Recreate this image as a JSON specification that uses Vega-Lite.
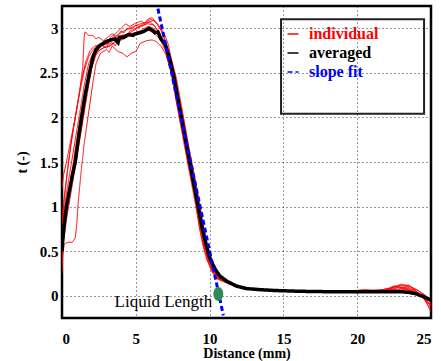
{
  "$schema": "https://vega.github.io/schema/vega-lite/v6.json",
  "width": 369,
  "height": 312,
  "autosize": {"type": "none"},
  "padding": {"left": 62, "top": 6, "right": 10, "bottom": 43},
  "background": "white",
  "config": {
    "view": {"stroke": "black", "strokeWidth": 2.5},
    "font": "Liberation Serif",
    "axis": {
      "labelFont": "Liberation Serif", "labelFontWeight": "bold", "labelFontSize": 15, "labelColor": "black",
      "titleFont": "Liberation Serif", "titleFontWeight": "bold", "titleFontSize": 14, "titleColor": "black",
      "domain": false, "ticks": false, "format": "~g",
      "grid": true, "gridDash": [1, 3], "gridColor": "black", "gridOpacity": 0.8, "gridWidth": 1
    },
    "legend": {
      "orient": "none", "legendX": 223, "legendY": 20, "title": null,
      "symbolType": "stroke", "symbolSize": 120, "symbolStrokeWidth": 1.5,
      "labelFont": "Liberation Serif", "labelFontWeight": "bold", "labelFontSize": 16,
      "labelOffset": 8, "rowPadding": 3, "padding": 0
    }
  },
  "datasets": {
    "ind": [
      {"run":"r1","x":0,"y":0.7},{"run":"r1","x":0.1,"y":1.0},{"run":"r1","x":0.3,"y":1.3},{"run":"r1","x":0.6,"y":1.7},{"run":"r1","x":0.9,"y":2.0},{"run":"r1","x":1.2,"y":2.3},{"run":"r1","x":1.4,"y":2.55},{"run":"r1","x":1.5,"y":2.9},{"run":"r1","x":1.56,"y":2.96},{"run":"r1","x":1.7,"y":2.94},{"run":"r1","x":1.8,"y":2.92},{"run":"r1","x":2.1,"y":2.92},{"run":"r1","x":2.3,"y":2.88},{"run":"r1","x":2.5,"y":2.9},{"run":"r1","x":2.8,"y":2.86},{"run":"r1","x":3.1,"y":2.9},{"run":"r1","x":3.4,"y":2.94},{"run":"r1","x":3.7,"y":2.9},{"run":"r1","x":4.0,"y":2.97},{"run":"r1","x":4.2,"y":2.95},{"run":"r1","x":4.4,"y":2.99},{"run":"r1","x":4.8,"y":3.0},{"run":"r1","x":5.0,"y":3.04},{"run":"r1","x":5.2,"y":3.02},{"run":"r1","x":5.6,"y":3.06},{"run":"r1","x":6.0,"y":3.07},{"run":"r1","x":6.3,"y":3.02},{"run":"r1","x":6.6,"y":2.95},{"run":"r1","x":6.9,"y":2.85},{"run":"r1","x":7.2,"y":2.62},{"run":"r1","x":7.5,"y":2.44},{"run":"r1","x":7.9,"y":2.08},{"run":"r1","x":8.3,"y":1.72},{"run":"r1","x":8.7,"y":1.37},{"run":"r1","x":9.1,"y":1.02},{"run":"r1","x":9.35,"y":0.76},{"run":"r1","x":9.6,"y":0.55},{"run":"r1","x":9.85,"y":0.4},{"run":"r1","x":10.2,"y":0.27},{"run":"r1","x":10.55,"y":0.19},{"run":"r1","x":11.2,"y":0.14},{"run":"r1","x":11.8,"y":0.1},{"run":"r1","x":12.5,"y":0.075},{"run":"r1","x":13.5,"y":0.064},{"run":"r1","x":15,"y":0.054},{"run":"r1","x":17,"y":0.046},{"run":"r1","x":19,"y":0.045},{"run":"r1","x":20,"y":0.055},{"run":"r1","x":20.6,"y":0.06},{"run":"r1","x":21.2,"y":0.05},{"run":"r1","x":21.8,"y":0.07},{"run":"r1","x":22.4,"y":0.09},{"run":"r1","x":22.9,"y":0.12},{"run":"r1","x":23.4,"y":0.1},{"run":"r1","x":23.9,"y":0.06},{"run":"r1","x":24.4,"y":0.0},{"run":"r1","x":25,"y":-0.12},

      {"run":"r2","x":0,"y":0.25},{"run":"r2","x":0.05,"y":0.45},{"run":"r2","x":0.15,"y":0.58},{"run":"r2","x":0.4,"y":0.6},{"run":"r2","x":0.7,"y":0.6},{"run":"r2","x":0.9,"y":0.65},{"run":"r2","x":1.0,"y":0.8},{"run":"r2","x":1.1,"y":1.05},{"run":"r2","x":1.3,"y":1.4},{"run":"r2","x":1.5,"y":1.7},{"run":"r2","x":1.8,"y":2.05},{"run":"r2","x":2.1,"y":2.4},{"run":"r2","x":2.3,"y":2.6},{"run":"r2","x":2.6,"y":2.72},{"run":"r2","x":3.0,"y":2.76},{"run":"r2","x":3.2,"y":2.73},{"run":"r2","x":3.4,"y":2.8},{"run":"r2","x":3.8,"y":2.74},{"run":"r2","x":4.1,"y":2.72},{"run":"r2","x":4.4,"y":2.68},{"run":"r2","x":4.7,"y":2.72},{"run":"r2","x":5.0,"y":2.74},{"run":"r2","x":5.3,"y":2.83},{"run":"r2","x":5.7,"y":2.86},{"run":"r2","x":6.1,"y":2.87},{"run":"r2","x":6.4,"y":2.85},{"run":"r2","x":6.7,"y":2.8},{"run":"r2","x":7.0,"y":2.72},{"run":"r2","x":7.3,"y":2.58},{"run":"r2","x":7.65,"y":2.44},{"run":"r2","x":8.05,"y":2.08},{"run":"r2","x":8.45,"y":1.7},{"run":"r2","x":8.85,"y":1.37},{"run":"r2","x":9.25,"y":1.0},{"run":"r2","x":9.5,"y":0.74},{"run":"r2","x":9.75,"y":0.54},{"run":"r2","x":10.0,"y":0.39},{"run":"r2","x":10.3,"y":0.26},{"run":"r2","x":10.65,"y":0.19},{"run":"r2","x":11.2,"y":0.15},{"run":"r2","x":11.8,"y":0.1},{"run":"r2","x":12.5,"y":0.08},{"run":"r2","x":13.5,"y":0.065},{"run":"r2","x":15,"y":0.055},{"run":"r2","x":16.8,"y":0.045},{"run":"r2","x":19,"y":0.045},{"run":"r2","x":20,"y":0.045},{"run":"r2","x":20.7,"y":0.05},{"run":"r2","x":21.3,"y":0.065},{"run":"r2","x":21.9,"y":0.055},{"run":"r2","x":22.5,"y":0.1},{"run":"r2","x":23.0,"y":0.13},{"run":"r2","x":23.5,"y":0.11},{"run":"r2","x":24.0,"y":0.07},{"run":"r2","x":24.5,"y":0.02},{"run":"r2","x":25,"y":-0.06},

      {"run":"r3","x":0,"y":0.5},{"run":"r3","x":0.1,"y":0.9},{"run":"r3","x":0.3,"y":1.15},{"run":"r3","x":0.6,"y":1.45},{"run":"r3","x":0.9,"y":1.75},{"run":"r3","x":1.2,"y":2.05},{"run":"r3","x":1.5,"y":2.35},{"run":"r3","x":1.8,"y":2.6},{"run":"r3","x":2.1,"y":2.72},{"run":"r3","x":2.5,"y":2.78},{"run":"r3","x":2.9,"y":2.85},{"run":"r3","x":3.1,"y":2.82},{"run":"r3","x":3.3,"y":2.9},{"run":"r3","x":3.7,"y":2.95},{"run":"r3","x":4.0,"y":3.0},{"run":"r3","x":4.3,"y":3.05},{"run":"r3","x":4.6,"y":3.02},{"run":"r3","x":5.0,"y":3.06},{"run":"r3","x":5.4,"y":3.08},{"run":"r3","x":5.6,"y":3.05},{"run":"r3","x":5.8,"y":3.1},{"run":"r3","x":6.1,"y":3.12},{"run":"r3","x":6.4,"y":3.06},{"run":"r3","x":6.7,"y":2.98},{"run":"r3","x":7.0,"y":2.85},{"run":"r3","x":7.3,"y":2.67},{"run":"r3","x":7.7,"y":2.44},{"run":"r3","x":8.1,"y":2.06},{"run":"r3","x":8.5,"y":1.72},{"run":"r3","x":8.9,"y":1.36},{"run":"r3","x":9.3,"y":1.02},{"run":"r3","x":9.55,"y":0.77},{"run":"r3","x":9.8,"y":0.56},{"run":"r3","x":10.05,"y":0.4},{"run":"r3","x":10.35,"y":0.28},{"run":"r3","x":10.7,"y":0.2},{"run":"r3","x":11.2,"y":0.15},{"run":"r3","x":11.8,"y":0.11},{"run":"r3","x":12.5,"y":0.078},{"run":"r3","x":13.5,"y":0.064},{"run":"r3","x":15,"y":0.055},{"run":"r3","x":17,"y":0.046},{"run":"r3","x":19,"y":0.046},{"run":"r3","x":20,"y":0.05},{"run":"r3","x":20.8,"y":0.045},{"run":"r3","x":21.5,"y":0.06},{"run":"r3","x":22.1,"y":0.08},{"run":"r3","x":22.7,"y":0.06},{"run":"r3","x":23.2,"y":0.09},{"run":"r3","x":23.7,"y":0.07},{"run":"r3","x":24.2,"y":0.02},{"run":"r3","x":24.6,"y":-0.05},{"run":"r3","x":25,"y":-0.18},

      {"run":"r4","x":0,"y":0.8},{"run":"r4","x":0.15,"y":1.1},{"run":"r4","x":0.4,"y":1.45},{"run":"r4","x":0.7,"y":1.8},{"run":"r4","x":1.0,"y":2.1},{"run":"r4","x":1.3,"y":2.4},{"run":"r4","x":1.6,"y":2.62},{"run":"r4","x":1.9,"y":2.75},{"run":"r4","x":2.2,"y":2.8},{"run":"r4","x":2.6,"y":2.82},{"run":"r4","x":3.0,"y":2.78},{"run":"r4","x":3.4,"y":2.82},{"run":"r4","x":3.8,"y":2.9},{"run":"r4","x":4.2,"y":2.93},{"run":"r4","x":4.4,"y":2.9},{"run":"r4","x":4.6,"y":2.97},{"run":"r4","x":5.0,"y":3.0},{"run":"r4","x":5.4,"y":3.03},{"run":"r4","x":5.8,"y":3.05},{"run":"r4","x":6.2,"y":3.04},{"run":"r4","x":6.5,"y":2.97},{"run":"r4","x":6.8,"y":2.88},{"run":"r4","x":7.1,"y":2.72},{"run":"r4","x":7.55,"y":2.44},{"run":"r4","x":7.95,"y":2.1},{"run":"r4","x":8.35,"y":1.72},{"run":"r4","x":8.75,"y":1.38},{"run":"r4","x":9.15,"y":1.02},{"run":"r4","x":9.42,"y":0.76},{"run":"r4","x":9.68,"y":0.55},{"run":"r4","x":9.92,"y":0.41},{"run":"r4","x":10.25,"y":0.28},{"run":"r4","x":10.6,"y":0.2},{"run":"r4","x":11.2,"y":0.15},{"run":"r4","x":11.8,"y":0.105},{"run":"r4","x":12.5,"y":0.077},{"run":"r4","x":13.5,"y":0.065},{"run":"r4","x":15,"y":0.054},{"run":"r4","x":17,"y":0.047},{"run":"r4","x":19,"y":0.045},{"run":"r4","x":20,"y":0.05},{"run":"r4","x":21,"y":0.055},{"run":"r4","x":21.8,"y":0.05},{"run":"r4","x":22.4,"y":0.07},{"run":"r4","x":23.0,"y":0.11},{"run":"r4","x":23.5,"y":0.12},{"run":"r4","x":24.0,"y":0.05},{"run":"r4","x":24.5,"y":-0.03},{"run":"r4","x":25,"y":-0.15},

      {"run":"r5","x":0,"y":0.6},{"run":"r5","x":0.2,"y":0.95},{"run":"r5","x":0.5,"y":1.2},{"run":"r5","x":0.8,"y":1.45},{"run":"r5","x":1.1,"y":1.7},{"run":"r5","x":1.4,"y":2.0},{"run":"r5","x":1.7,"y":2.3},{"run":"r5","x":2.0,"y":2.55},{"run":"r5","x":2.3,"y":2.7},{"run":"r5","x":2.6,"y":2.76},{"run":"r5","x":3.0,"y":2.8},{"run":"r5","x":3.4,"y":2.84},{"run":"r5","x":3.6,"y":2.8},{"run":"r5","x":3.8,"y":2.86},{"run":"r5","x":4.2,"y":2.88},{"run":"r5","x":4.6,"y":2.92},{"run":"r5","x":5.0,"y":2.95},{"run":"r5","x":5.4,"y":2.98},{"run":"r5","x":5.8,"y":3.02},{"run":"r5","x":6.2,"y":3.0},{"run":"r5","x":6.5,"y":2.95},{"run":"r5","x":6.8,"y":2.86},{"run":"r5","x":7.1,"y":2.74},{"run":"r5","x":7.6,"y":2.42},{"run":"r5","x":8.0,"y":2.08},{"run":"r5","x":8.4,"y":1.73},{"run":"r5","x":8.8,"y":1.36},{"run":"r5","x":9.2,"y":1.01},{"run":"r5","x":9.45,"y":0.75},{"run":"r5","x":9.72,"y":0.54},{"run":"r5","x":9.98,"y":0.39},{"run":"r5","x":10.3,"y":0.27},{"run":"r5","x":10.65,"y":0.2},{"run":"r5","x":11.2,"y":0.15},{"run":"r5","x":11.8,"y":0.1},{"run":"r5","x":12.5,"y":0.078},{"run":"r5","x":13.5,"y":0.064},{"run":"r5","x":15,"y":0.054},{"run":"r5","x":17,"y":0.046},{"run":"r5","x":19,"y":0.045},{"run":"r5","x":20,"y":0.045},{"run":"r5","x":21,"y":0.05},{"run":"r5","x":22,"y":0.06},{"run":"r5","x":22.6,"y":0.05},{"run":"r5","x":23.2,"y":0.07},{"run":"r5","x":23.8,"y":0.04},{"run":"r5","x":24.3,"y":0.01},{"run":"r5","x":25,"y":-0.08},

      {"run":"r6","x":0,"y":0.45},{"run":"r6","x":0.1,"y":0.7},{"run":"r6","x":0.3,"y":0.95},{"run":"r6","x":0.6,"y":1.3},{"run":"r6","x":0.9,"y":1.65},{"run":"r6","x":1.2,"y":1.95},{"run":"r6","x":1.5,"y":2.25},{"run":"r6","x":1.8,"y":2.5},{"run":"r6","x":2.1,"y":2.66},{"run":"r6","x":2.4,"y":2.74},{"run":"r6","x":2.8,"y":2.78},{"run":"r6","x":3.2,"y":2.8},{"run":"r6","x":3.6,"y":2.84},{"run":"r6","x":4.0,"y":2.88},{"run":"r6","x":4.3,"y":2.92},{"run":"r6","x":4.7,"y":2.96},{"run":"r6","x":5.1,"y":3.0},{"run":"r6","x":5.5,"y":3.03},{"run":"r6","x":5.9,"y":3.07},{"run":"r6","x":6.2,"y":3.09},{"run":"r6","x":6.5,"y":3.04},{"run":"r6","x":6.8,"y":2.96},{"run":"r6","x":7.1,"y":2.8},{"run":"r6","x":7.3,"y":2.64},{"run":"r6","x":7.45,"y":2.44},{"run":"r6","x":7.85,"y":2.08},{"run":"r6","x":8.25,"y":1.72},{"run":"r6","x":8.65,"y":1.37},{"run":"r6","x":9.05,"y":1.02},{"run":"r6","x":9.32,"y":0.75},{"run":"r6","x":9.58,"y":0.54},{"run":"r6","x":9.83,"y":0.4},{"run":"r6","x":10.15,"y":0.27},{"run":"r6","x":10.5,"y":0.19},{"run":"r6","x":11.2,"y":0.14},{"run":"r6","x":11.8,"y":0.1},{"run":"r6","x":12.5,"y":0.076},{"run":"r6","x":13.5,"y":0.065},{"run":"r6","x":15,"y":0.055},{"run":"r6","x":17,"y":0.047},{"run":"r6","x":19,"y":0.046},{"run":"r6","x":20,"y":0.06},{"run":"r6","x":20.5,"y":0.07},{"run":"r6","x":21.2,"y":0.06},{"run":"r6","x":22,"y":0.065},{"run":"r6","x":22.8,"y":0.1},{"run":"r6","x":23.3,"y":0.08},{"run":"r6","x":23.8,"y":0.05},{"run":"r6","x":24.4,"y":-0.02},{"run":"r6","x":25,"y":-0.1},

      {"run":"r7","x":0,"y":1.2},{"run":"r7","x":0.1,"y":1.35},{"run":"r7","x":0.3,"y":1.5},{"run":"r7","x":0.6,"y":1.75},{"run":"r7","x":0.9,"y":2.0},{"run":"r7","x":1.2,"y":2.28},{"run":"r7","x":1.5,"y":2.52},{"run":"r7","x":1.8,"y":2.68},{"run":"r7","x":2.1,"y":2.76},{"run":"r7","x":2.5,"y":2.82},{"run":"r7","x":2.9,"y":2.86},{"run":"r7","x":3.3,"y":2.88},{"run":"r7","x":3.7,"y":2.92},{"run":"r7","x":4.1,"y":2.96},{"run":"r7","x":4.5,"y":3.0},{"run":"r7","x":4.9,"y":3.02},{"run":"r7","x":5.3,"y":3.05},{"run":"r7","x":5.7,"y":3.07},{"run":"r7","x":6.0,"y":3.1},{"run":"r7","x":6.3,"y":3.08},{"run":"r7","x":6.6,"y":3.02},{"run":"r7","x":6.9,"y":2.95},{"run":"r7","x":7.2,"y":2.82},{"run":"r7","x":7.4,"y":2.66},{"run":"r7","x":7.75,"y":2.44},{"run":"r7","x":8.15,"y":2.08},{"run":"r7","x":8.55,"y":1.71},{"run":"r7","x":8.95,"y":1.37},{"run":"r7","x":9.35,"y":1.02},{"run":"r7","x":9.6,"y":0.77},{"run":"r7","x":9.85,"y":0.56},{"run":"r7","x":10.1,"y":0.42},{"run":"r7","x":10.4,"y":0.29},{"run":"r7","x":10.75,"y":0.21},{"run":"r7","x":11.2,"y":0.16},{"run":"r7","x":11.8,"y":0.11},{"run":"r7","x":12.5,"y":0.08},{"run":"r7","x":13.5,"y":0.066},{"run":"r7","x":15,"y":0.056},{"run":"r7","x":17,"y":0.047},{"run":"r7","x":19,"y":0.045},{"run":"r7","x":20,"y":0.05},{"run":"r7","x":21,"y":0.05},{"run":"r7","x":22.0,"y":0.075},{"run":"r7","x":22.5,"y":0.11},{"run":"r7","x":23.0,"y":0.09},{"run":"r7","x":23.6,"y":0.1},{"run":"r7","x":24.1,"y":0.06},{"run":"r7","x":24.6,"y":0.0},{"run":"r7","x":25,"y":-0.05},

      {"run":"r8","x":0,"y":0.35},{"run":"r8","x":0.1,"y":0.6},{"run":"r8","x":0.3,"y":0.85},{"run":"r8","x":0.6,"y":1.15},{"run":"r8","x":0.9,"y":1.45},{"run":"r8","x":1.2,"y":1.75},{"run":"r8","x":1.5,"y":2.05},{"run":"r8","x":1.8,"y":2.35},{"run":"r8","x":2.0,"y":2.55},{"run":"r8","x":2.3,"y":2.72},{"run":"r8","x":2.6,"y":2.8},{"run":"r8","x":3.0,"y":2.82},{"run":"r8","x":3.4,"y":2.86},{"run":"r8","x":3.8,"y":2.9},{"run":"r8","x":4.2,"y":2.92},{"run":"r8","x":4.6,"y":2.94},{"run":"r8","x":5.0,"y":2.95},{"run":"r8","x":5.4,"y":2.97},{"run":"r8","x":5.8,"y":2.98},{"run":"r8","x":6.1,"y":2.96},{"run":"r8","x":6.4,"y":2.92},{"run":"r8","x":6.7,"y":2.86},{"run":"r8","x":7.0,"y":2.75},{"run":"r8","x":7.5,"y":2.45},{"run":"r8","x":7.92,"y":2.08},{"run":"r8","x":8.32,"y":1.72},{"run":"r8","x":8.72,"y":1.37},{"run":"r8","x":9.12,"y":1.01},{"run":"r8","x":9.4,"y":0.75},{"run":"r8","x":9.65,"y":0.55},{"run":"r8","x":9.9,"y":0.4},{"run":"r8","x":10.22,"y":0.27},{"run":"r8","x":10.58,"y":0.2},{"run":"r8","x":11.2,"y":0.15},{"run":"r8","x":11.8,"y":0.1},{"run":"r8","x":12.5,"y":0.077},{"run":"r8","x":13.5,"y":0.064},{"run":"r8","x":15,"y":0.055},{"run":"r8","x":17,"y":0.046},{"run":"r8","x":19,"y":0.045},{"run":"r8","x":20,"y":0.05},{"run":"r8","x":21,"y":0.06},{"run":"r8","x":21.7,"y":0.055},{"run":"r8","x":22.3,"y":0.065},{"run":"r8","x":23.0,"y":0.08},{"run":"r8","x":23.6,"y":0.06},{"run":"r8","x":24.2,"y":0.03},{"run":"r8","x":25,"y":-0.11}
    ],
    "avg": [
      {"x":0,"y":0.5},{"x":0.05,"y":0.62},{"x":0.15,"y":0.8},{"x":0.3,"y":1.0},{"x":0.5,"y":1.18},{"x":0.7,"y":1.35},{"x":0.9,"y":1.5},{"x":1.1,"y":1.75},{"x":1.33,"y":2.01},{"x":1.6,"y":2.28},{"x":1.9,"y":2.53},{"x":2.1,"y":2.68},{"x":2.3,"y":2.76},{"x":2.6,"y":2.81},{"x":2.8,"y":2.83},{"x":3.0,"y":2.85},{"x":3.3,"y":2.87},{"x":3.6,"y":2.88},{"x":3.8,"y":2.84},{"x":3.9,"y":2.9},{"x":4.2,"y":2.9},{"x":4.5,"y":2.93},{"x":4.8,"y":2.92},{"x":5.0,"y":2.94},{"x":5.3,"y":2.95},{"x":5.6,"y":2.97},{"x":5.9,"y":3.0},{"x":6.1,"y":2.98},{"x":6.3,"y":2.95},{"x":6.5,"y":2.96},{"x":6.7,"y":2.88},{"x":7.0,"y":2.82},{"x":7.3,"y":2.66},{"x":7.6,"y":2.44},{"x":8.0,"y":2.08},{"x":8.4,"y":1.72},{"x":8.8,"y":1.37},{"x":9.2,"y":1.02},{"x":9.5,"y":0.76},{"x":9.8,"y":0.55},{"x":10.05,"y":0.41},{"x":10.4,"y":0.29},{"x":10.7,"y":0.22},{"x":11.2,"y":0.16},{"x":11.8,"y":0.11},{"x":12.5,"y":0.08},{"x":13.4,"y":0.068},{"x":14.5,"y":0.058},{"x":16,"y":0.05},{"x":18,"y":0.045},{"x":20,"y":0.043},{"x":22,"y":0.045},{"x":23,"y":0.045},{"x":23.6,"y":0.035},{"x":24.0,"y":0.02},{"x":24.5,"y":-0.01},{"x":25,"y":-0.05}
    ],
    "fit": [{"x":6.5,"y":3.22},{"x":10.93,"y":-0.22}],
    "pt": [{"x":10.59,"y":0.02,"label":"Liquid Length"}],
    "box": [{"x":14.84,"x2":24.53,"y":3.1,"y2":2.04}]
  },
  "layer": [
    {
      "data": {"name": "box"},
      "mark": {"type": "rect", "fill": null, "stroke": "#222", "strokeWidth": 2},
      "encoding": {
        "x": {"field": "x", "type": "quantitative", "scale": {"domain": [0, 25], "nice": false},
          "axis": {"values": [0,5,10,15,20,25], "title": "Distance (mm)", "labelPadding": 13, "titlePadding": 0,
            "labelFont": "Liberation Serif", "titleFont": "Liberation Serif"}},
        "x2": {"field": "x2"},
        "y": {"field": "y", "type": "quantitative", "scale": {"domain": [-0.25, 3.25], "nice": false, "zero": false},
          "axis": {"values": [0,0.5,1,1.5,2,2.5,3], "title": "t (-)", "labelPadding": 4, "titlePadding": 10,
            "labelFont": "Liberation Serif", "titleFont": "Liberation Serif"}},
        "y2": {"field": "y2"}
      }
    },
    {
      "data": {"name": "ind"},
      "mark": {"type": "line", "strokeWidth": 1, "clip": true},
      "encoding": {
        "x": {"field": "x", "type": "quantitative"},
        "y": {"field": "y", "type": "quantitative"},
        "detail": {"field": "run"},
        "color": {"datum": "individual", "type": "nominal", "scale": {"domain": ["individual", "averaged", "slope fit"], "range": ["#ff0000", "#000000", "#0000ff"]},
          "legend": {"encode": {"labels": {"update": {"fill": {"scale": "color", "field": "value"}}}}}},
        "strokeDash": {"datum": "individual", "type": "nominal", "scale": {"domain": ["individual", "averaged", "slope fit"], "range": [[1, 0], [1, 0], [5, 3]]}}
      }
    },
    {
      "data": {"name": "avg"},
      "mark": {"type": "line", "strokeWidth": 3.5, "clip": true},
      "encoding": {
        "x": {"field": "x", "type": "quantitative"},
        "y": {"field": "y", "type": "quantitative"},
        "color": {"datum": "averaged", "type": "nominal"},
        "strokeDash": {"datum": "averaged", "type": "nominal"}
      }
    },
    {
      "data": {"name": "fit"},
      "mark": {"type": "line", "strokeWidth": 3, "clip": true},
      "encoding": {
        "x": {"field": "x", "type": "quantitative"},
        "y": {"field": "y", "type": "quantitative"},
        "color": {"datum": "slope fit", "type": "nominal"},
        "strokeDash": {"datum": "slope fit", "type": "nominal"}
      }
    },
    {
      "data": {"name": "pt"},
      "mark": {"type": "point", "filled": true, "color": "#2e8b57", "opacity": 1, "shape": "M0,-1A0.72,1,0,1,1,0,1A0.72,1,0,1,1,0,-1Z", "size": 190},
      "encoding": {
        "x": {"field": "x", "type": "quantitative"},
        "y": {"field": "y", "type": "quantitative"}
      }
    },
    {
      "data": {"name": "pt"},
      "mark": {"type": "text", "align": "right", "baseline": "middle", "dx": -6, "dy": 8, "font": "Liberation Serif", "fontSize": 17, "color": "black"},
      "encoding": {
        "x": {"field": "x", "type": "quantitative"},
        "y": {"field": "y", "type": "quantitative"},
        "text": {"field": "label"}
      }
    }
  ]
}
